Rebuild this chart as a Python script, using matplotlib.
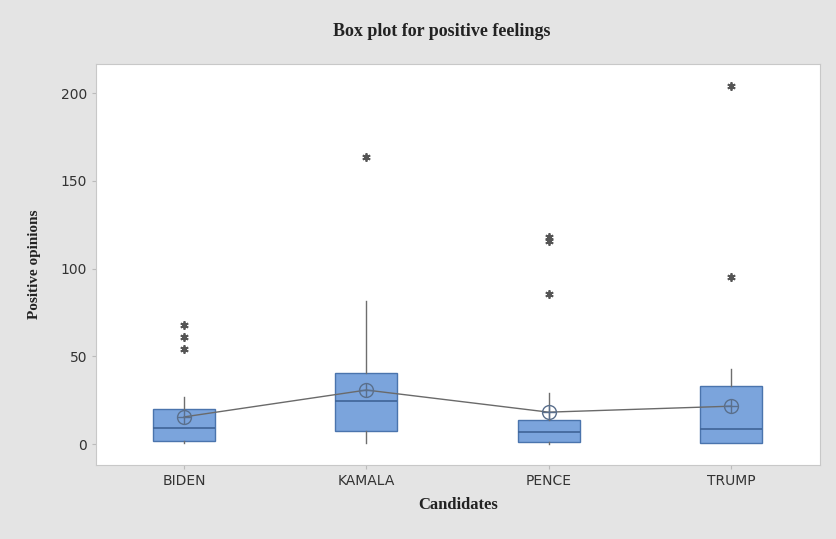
import matplotlib.pyplot as plt

candidates = ['BIDEN', 'KAMALA', 'PENCE', 'TRUMP']
q1 = [1.7, 7.5, 1.1, 0.5]
medians = [9, 24.5, 6.8, 8.5]
q3 = [20, 40.5, 13.7, 33]
whisker_low = [0.5, 0.5, 0, 0.5]
whisker_high = [27, 81.5, 29, 43]
means = [15.5, 30.8, 18.2, 21.6]
outliers = [[68, 61, 54], [163.5], [118, 116, 85.5], [204, 95]]

stats = []
for i, name in enumerate(candidates):
    stats.append({'label': name, 'q1': q1[i], 'med': medians[i], 'q3': q3[i],
                  'whislo': whisker_low[i], 'whishi': whisker_high[i],
                  'fliers': outliers[i], 'mean': means[i]})

fig = plt.figure(figsize=(8.36, 5.39), dpi=100, facecolor='#e4e4e4')
ax = fig.add_axes([0.115, 0.137, 0.866, 0.744])

pos = [1, 2, 3, 4]
ax.bxp(stats, positions=pos, widths=0.34, patch_artist=True, showmeans=False,
       boxprops=dict(facecolor='#7ba4dc', edgecolor='#4a74ad', linewidth=1),
       medianprops=dict(color='#3f6497', linewidth=1.2),
       whiskerprops=dict(color='#6e6e6e', linewidth=1),
       capprops=dict(linewidth=0),
       flierprops=dict(marker=(6, 2, 0), markersize=6, markerfacecolor='#555555',
                       markeredgecolor='#555555', markeredgewidth=1.3, linestyle='none'))

# mean connect line with circle-cross markers
ax.plot(pos, means, color='#6a6a6a', linewidth=1, zorder=3)
ax.plot(pos, means, linestyle='none', marker='o', markersize=10,
        markerfacecolor='none', markeredgecolor='#5a6f8c', markeredgewidth=1, zorder=4)
ax.plot(pos, means, linestyle='none', marker='+', markersize=10,
        markeredgecolor='#5a6f8c', markeredgewidth=1, zorder=4)

ax.set_xlim(0.517, 4.49)
ax.set_ylim(-12, 216.5)
ax.set_yticks([0, 50, 100, 150, 200])
ax.set_xticks(pos)
ax.set_xticklabels(candidates)
ax.tick_params(labelsize=10, colors='#333333', length=3, color='#bbbbbb')

for s in ax.spines.values():
    s.set_color('#c8c8c8')

fig.suptitle('Box plot for positive feelings', x=0.528, y=0.957, fontfamily='Liberation Serif',
             fontweight='bold', fontsize=13, color='#222222')
ax.set_xlabel('Candidates', fontfamily='Liberation Serif', fontweight='bold',
              fontsize=12, color='#222222', labelpad=6)
ax.set_ylabel('Positive opinions', fontfamily='Liberation Serif', fontweight='bold',
              fontsize=11, color='#222222', labelpad=14)

plt.savefig('out.png', dpi=100, facecolor=fig.get_facecolor())
